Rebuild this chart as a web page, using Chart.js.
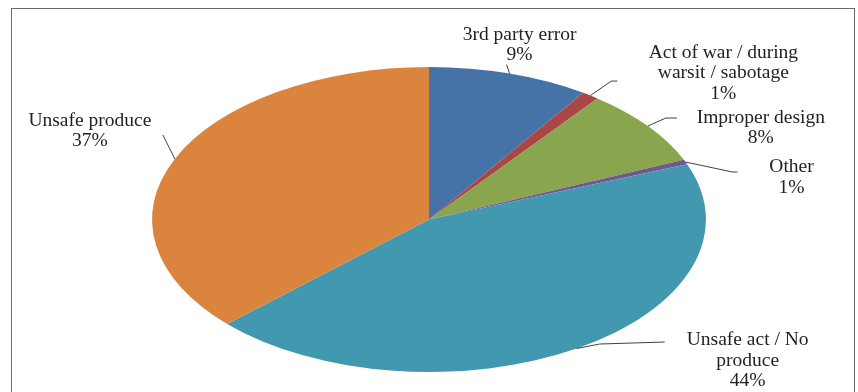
<!DOCTYPE html>
<html>
<head>
<meta charset="utf-8">
<script src="https://cdn.jsdelivr.net/npm/chart.js@4"></script>
<style>
  body { margin: 0; background: #fff; }
  canvas { display: block; }
</style>
</head>
<body>
<canvas id="pieChart" width="858" height="392"></canvas>
<script>
const categories = [
  "3rd party error",
  "Act of war / during warsit / sabotage",
  "Improper design",
  "Other",
  "Unsafe act / No produce",
  "Unsafe produce",
];
// label lines as wrapped in the picture
const labelLines = [
  ["3rd party error"],
  ["Act of war / during", "warsit / sabotage"],
  ["Improper design"],
  ["Other"],
  ["Unsafe act / No", "produce"],
  ["Unsafe produce"],
];
const percentLabels = ["9%", "1%", "8%", "1%", "44%", "37%"];
const values = [9.4, 1.0, 8.2, 0.5, 43.9, 37.0];
const colors = ["#4572a7", "#aa4643", "#89a54e", "#71588f", "#4198af", "#db843d"];

const ellipseRatio = 1.816; // pie is drawn flattened

// leader / text offsets from the slice's outer edge point
const leaderElbow = [[-3, -9], [21, -14.5], [18, -8], [47, 10], [23, -4.5], [-12, -24]];
const leaderEnd = [[-3, -9], [27, -14.5], [29, -8], [52, 10], [88, -6.5], [-12, -24]];
const textOffset = [[10, -28.5], [133, -22.5], [113, 2], [106, 15.5], [171, 12], [-85, -28]];

const lineHeight = 20.5;

function edgePoint(arc) {
  const p = arc.getProps(["x", "y", "startAngle", "endAngle", "outerRadius"], true);
  const mid = (p.startAngle + p.endAngle) / 2;
  return {
    x: p.x + p.outerRadius * ellipseRatio * Math.cos(mid),
    y: p.y + p.outerRadius * Math.sin(mid),
  };
}

const ellipsePlugin = {
  id: "ellipse",
  beforeDraw(chart) {
    const ctx = chart.ctx;
    ctx.save();
    ctx.strokeStyle = "#6b6b6b";
    ctx.lineWidth = 1;
    ctx.strokeRect(11.5, 8.5, 843, 420);
    ctx.restore();
  },
  beforeDatasetsDraw(chart) {
    const arc = chart.getDatasetMeta(0).data[0];
    const ctx = chart.ctx;
    ctx.save();
    ctx.translate(arc.x, arc.y);
    ctx.scale(ellipseRatio, 1);
    ctx.translate(-arc.x, -arc.y);
  },
  afterDatasetsDraw(chart) {
    chart.ctx.restore();
  },
  afterDraw(chart) {
    const ctx = chart.ctx;
    const meta = chart.getDatasetMeta(0);
    ctx.save();
    meta.data.forEach((arc, i) => {
      const e = edgePoint(arc);
      ctx.strokeStyle = "#404040";
      ctx.lineWidth = 1;
      ctx.beginPath();
      ctx.moveTo(e.x, e.y);
      ctx.lineTo(e.x + leaderElbow[i][0], e.y + leaderElbow[i][1]);
      ctx.lineTo(e.x + leaderEnd[i][0], e.y + leaderEnd[i][1]);
      ctx.stroke();

      const lines = labelLines[i].concat([percentLabels[i]]);
      const cx = e.x + textOffset[i][0];
      const cy = e.y + textOffset[i][1];
      const top = cy - ((lines.length - 1) * lineHeight) / 2;
      ctx.fillStyle = "#222";
      ctx.font = '19.5px "Liberation Serif", "Times New Roman", serif';
      ctx.textAlign = "center";
      ctx.textBaseline = "middle";
      lines.forEach((t, k) => ctx.fillText(t, cx, top + k * lineHeight));
    });
    ctx.restore();
  },
};

const ctxPie = document.getElementById("pieChart").getContext("2d");
const pieChart = new Chart(ctxPie, {
  type: "pie",
  data: {
    labels: categories,
    datasets: [
      {
        data: values,
        backgroundColor: colors,
        borderWidth: 0,
      },
    ],
  },
  options: {
    responsive: false,
    animation: false,
    events: [],
    layout: {
      padding: { top: 67, bottom: 20, left: 100, right: 100 },
    },
    plugins: {
      legend: { display: false },
      tooltip: { enabled: false },
    },
  },
  plugins: [ellipsePlugin],
});
</script>
</body>
</html>
